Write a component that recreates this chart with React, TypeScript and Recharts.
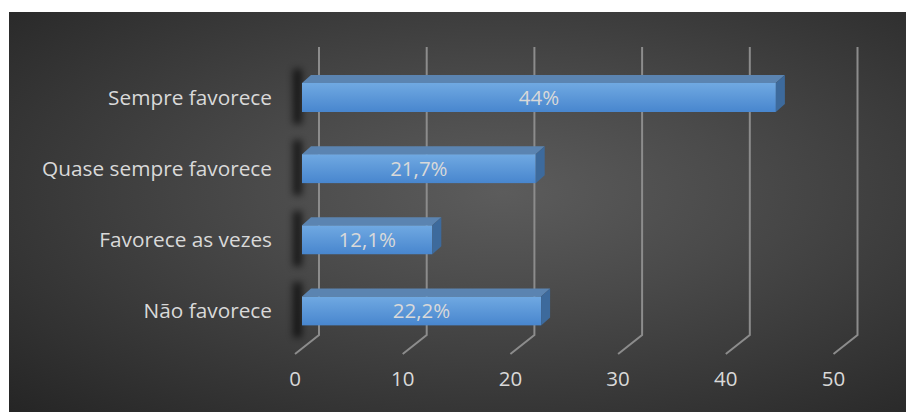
import React from "react";
import { BarChart, Bar, XAxis, YAxis, CartesianGrid, LabelList } from "recharts";

const categories = ["Sempre favorece", "Quase sempre favorece", "Favorece as vezes", "Não favorece"];
const values = [44, 21.7, 12.1, 22.2];
const valueLabels = ["44%", "21,7%", "12,1%", "22,2%"];
const xTicks = [0, 10, 20, 30, 40, 50];

const data = categories.map((name, i) => ({ name, value: values[i], label: valueLabels[i] }));

const FONT = "'Open Sans', 'Noto Sans', sans-serif";
const TEXT = "#d9d9d9";
const DX = 9; // depth of the 3d bars
const DY = 8;

function Bar3D(props: any) {
  const { x, y, width, height } = props;
  if (width == null || height == null) return null;
  return (
    <g>
      <rect x={x - 9} y={y - 14} width={9} height={height + 26} fill="#000" opacity={0.65} filter="url(#barShadow)" />
      <rect x={x} y={y} width={width} height={height} fill="url(#frontGrad)" />
      <polygon
        points={`${x},${y} ${x + DX},${y - DY} ${x + width + DX},${y - DY} ${x + width},${y}`}
        fill="#5b84b1"
      />
      <polygon
        points={`${x + width},${y} ${x + width + DX},${y - DY} ${x + width + DX},${y + height - DY} ${x + width},${y + height}`}
        fill="#3d6a9c"
      />
    </g>
  );
}

function GridLine(props: any) {
  const { x1, y1, y2 } = props;
  const back = x1 + 17;
  const front = x1 - 7;
  return (
    <path
      d={`M${back},${y1 - 15} L${back},${y2 - 11.5} L${front},${y2 + 7.5}`}
      fill="none"
      stroke="#8c8c8c"
      strokeWidth={2}
    />
  );
}

function XTick(props: any) {
  const { x, y, payload } = props;
  return (
    <text x={x - 7} y={y + 31} textAnchor="middle" fill={TEXT} fontSize={20.5} fontFamily={FONT}>
      {payload.value}
    </text>
  );
}

export default function App() {
  return (
    <div style={{ position: "absolute", left: 0, top: 0, width: 906, height: 412, background: "#fff" }}>
      <div
        style={{
          position: "absolute",
          left: 9,
          top: 12,
          width: 897,
          height: 400,
          background: "radial-gradient(ellipse at 55% 45%, #5c5c5c 0%, #4a4a4a 35%, #252525 100%)",
        }}
      />
      <div style={{ position: "absolute", left: 0, top: 0 }}>
        <BarChart
          width={906}
          height={412}
          data={data}
          layout="vertical"
          margin={{ top: 62, right: 65.5, bottom: 0, left: 0 }}
          barSize={29}
        >
          <defs>
            <linearGradient id="frontGrad" x1="0" y1="0" x2="0" y2="1">
              <stop offset="0%" stopColor="#70a9e2" />
              <stop offset="100%" stopColor="#4886ce" />
            </linearGradient>
            <filter id="barShadow" x="-300%" y="-50%" width="700%" height="200%">
              <feGaussianBlur stdDeviation="3.5" />
            </filter>
          </defs>
          <CartesianGrid horizontal={false} vertical={(p: any) => <GridLine key={p.key} {...p} />} stroke="#8c8c8c" />
          <XAxis
            type="number"
            domain={[0, 50]}
            ticks={xTicks}
            axisLine={false}
            tickLine={false}
            height={65.5}
            tick={<XTick />}
            interval={0}
          />
          <YAxis
            type="category"
            dataKey="name"
            width={302}
            axisLine={false}
            tickLine={false}
            tickSize={0}
            tickMargin={30}
            tick={{ fill: TEXT, fontSize: 20.8, fontFamily: FONT }}
          />
          <Bar dataKey="value" shape={<Bar3D />} isAnimationActive={false}>
            <LabelList dataKey="label" position="center" fill={TEXT} fontSize={20.5} fontFamily={FONT} />
          </Bar>
        </BarChart>
      </div>
    </div>
  );
}
